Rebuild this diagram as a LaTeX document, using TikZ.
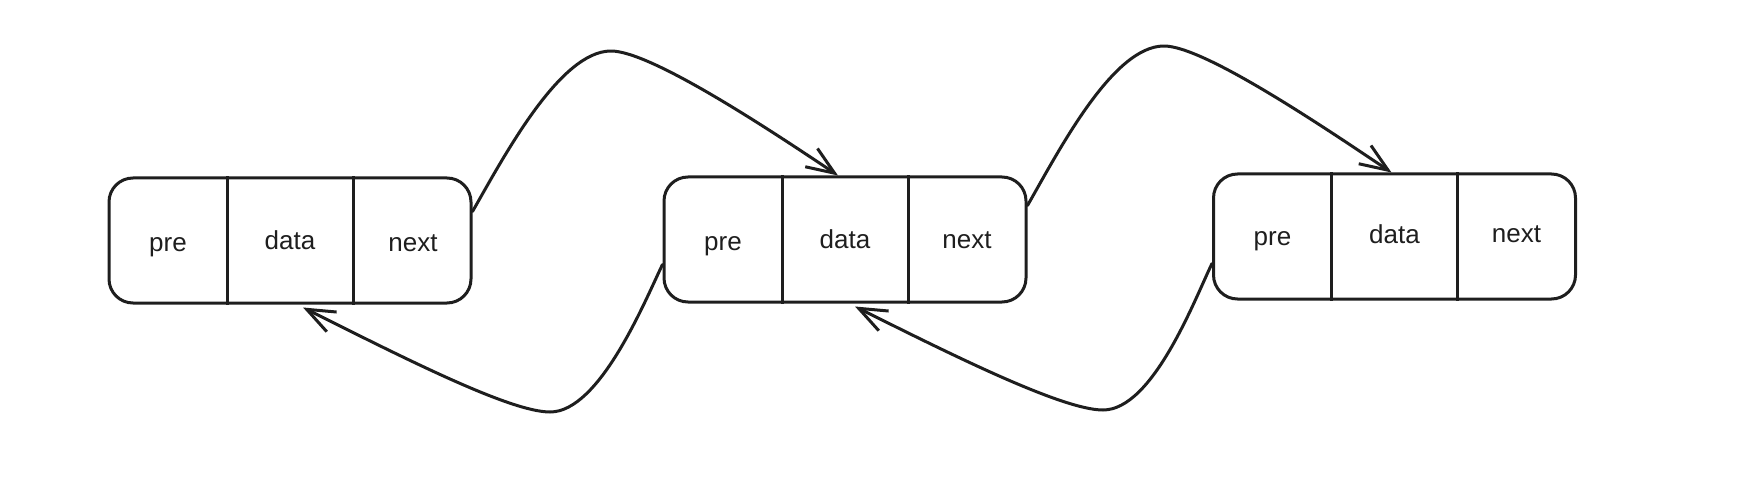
\documentclass[tikz,border=0pt]{standalone}
\usepackage{fontspec}
\setmainfont{Liberation Sans}
\usetikzlibrary{arrows.meta,calc}
\definecolor{ink}{HTML}{1E1E1E}
\begin{document}
\begin{tikzpicture}[x=1pt,y=-1pt,
  box/.style={draw=ink, line width=3pt, rounded corners=24pt, minimum width=362pt, minimum height=125pt, inner sep=0pt},
  lbl/.style={anchor=base, font=\fontsize{26}{30}\selectfont, text=ink},
  divider/.style={draw=ink, line width=3pt},
  link/.style={draw=ink, line width=3pt, line cap=round, line join=round, -{Straight Barb[length=28pt,width=22pt]}}]
\useasboundingbox (0,0) rectangle (1747,481);

% boxes
\node[box] (b1) at (290,240.5) {};
\node[box] (b2) at (845,239.5) {};
\node[box] (b3) at (1394.5,236.5) {};

% dividers and labels
\foreach \b in {b1,b2,b3}{
  \draw[divider] ($(\b.north)+(-63,0)$) -- ($(\b.south)+(-63,0)$);
  \draw[divider] ($(\b.north)+(63,0)$) -- ($(\b.south)+(63,0)$);
}
\node[lbl] (p1) at ($(b1.center)+(-122,11)$) {pre};
\node[lbl] (d1) at ($(b1.center)+(0,9)$) {data};
\node[lbl] (n1) at ($(b1.center)+(123,11)$) {next};
\node[lbl] (p2) at ($(b2.center)+(-122,11)$) {pre};
\node[lbl] (d2) at ($(b2.center)+(0,9)$) {data};
\node[lbl] (n2) at ($(b2.center)+(122,9)$) {next};
\node[lbl] (p3) at ($(b3.center)+(-122,9)$) {pre};
\node[lbl] (d3) at ($(b3.center)+(0,7)$) {data};
\node[lbl] (n3) at ($(b3.center)+(122,6)$) {next};

% waypoints
\coordinate (k1) at (611,51);
\coordinate (k2) at (1164,46);
\coordinate (t1) at (550,412);
\coordinate (t2) at (1103,410);

% next links
\draw[link] ($(b1.east)+(0,-29)$) .. controls +(32,-56) and +(-51,0) .. (k1)
  .. controls +(39,0) and +(-73,-49) .. ($(b2.north)+(-7,0)$);
\draw[link] ($(b2.east)+(0,-34)$) .. controls +(32,-56) and +(-51,0) .. (k2)
  .. controls +(39,0) and +(-73,-49) .. ($(b3.north)+(-3,0)$);

% pre links
\draw[link] ($(b2.west)+(0,25)$) .. controls +(-17,35) and +(50,0) .. (t1)
  .. controls +(-40,0) and +(100,50) .. ($(b1.south)+(13,3)$);
\draw[link] ($(b3.west)+(0,27)$) .. controls +(-17,35) and +(50,0) .. (t2)
  .. controls +(-40,0) and +(100,50) .. ($(b2.south)+(10,3)$);
\end{tikzpicture}
\end{document}
